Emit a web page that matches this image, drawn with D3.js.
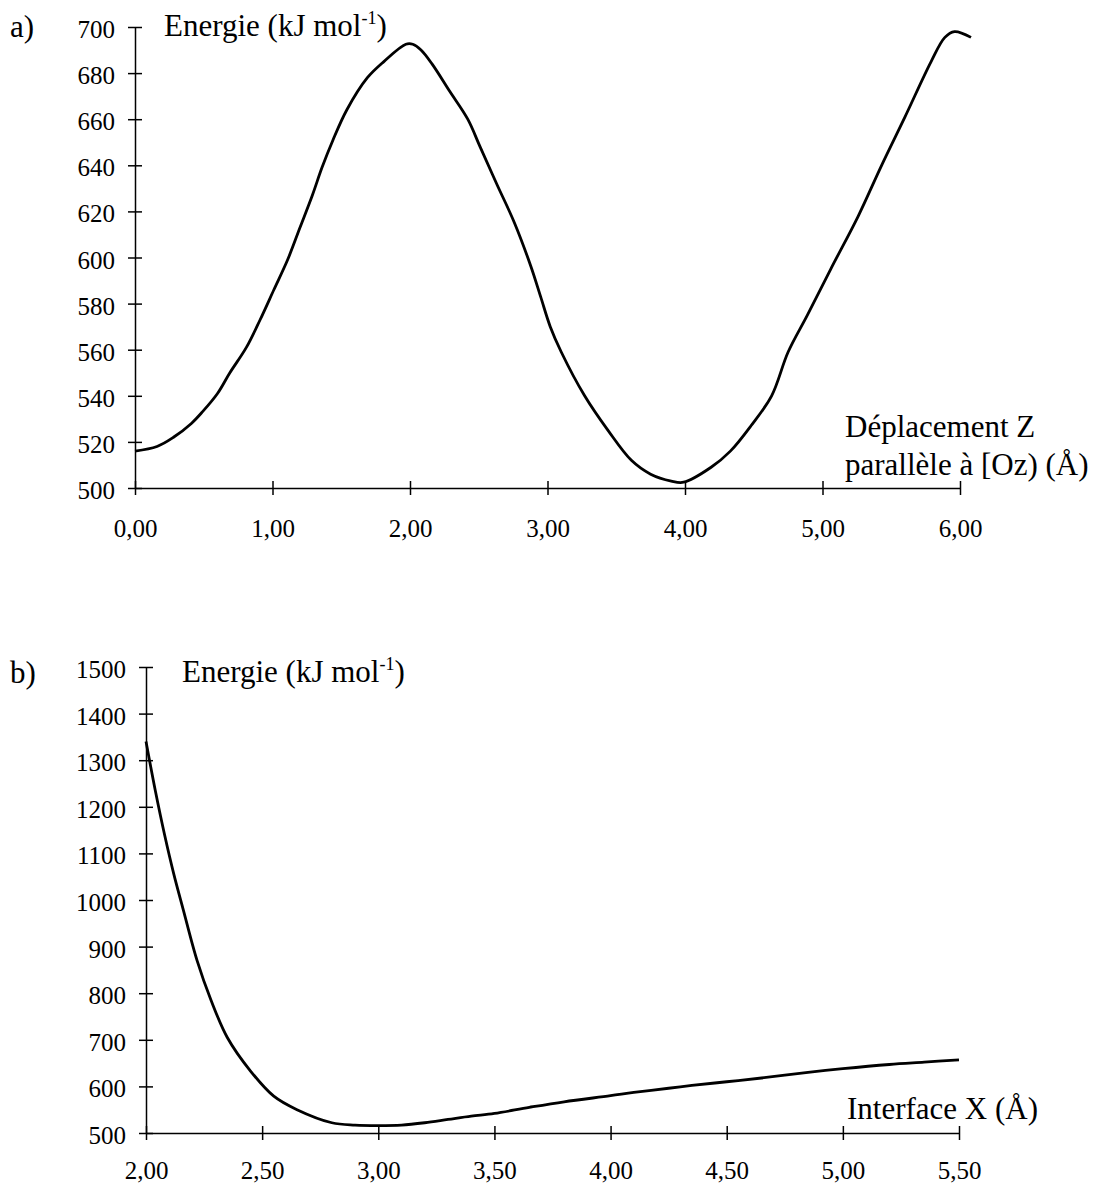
<!DOCTYPE html>
<html>
<head>
<meta charset="utf-8">
<script src="https://cdn.jsdelivr.net/npm/d3@7"></script>
<style>
body { margin: 0; background: #fff; }
svg { display: block; font-family: "Liberation Serif", "Times New Roman", serif; }
.axis path, .axis line { stroke: #000; stroke-width: 1.5; }
.axis text { font-size: 25px; fill: #000; font-family: "Liberation Serif", serif; }
.label { font-size: 31px; fill: #000; }
</style>
</head>
<body>
<svg id="chart" width="1098" height="1189"></svg>
<script>
// a) energy vs displacement along [Oz)
const dispZ = [0.00, 0.16, 0.28, 0.41, 0.49, 0.60, 0.69, 0.81, 0.91, 1.01, 1.11, 1.20, 1.29, 1.36, 1.44,
    1.54, 1.69, 1.81, 1.97, 2.02, 2.08, 2.16, 2.29, 2.42, 2.51, 2.63, 2.76, 2.88, 2.95, 3.02, 3.10,
    3.27, 3.44, 3.61, 3.75, 3.90, 3.99, 4.19, 4.33, 4.48, 4.63, 4.75, 4.89, 5.06, 5.26, 5.43, 5.60,
    5.79, 5.89, 5.96, 6.08];
const energyZ = [516, 518, 522, 528, 533, 541, 550, 561, 573, 586, 599, 613, 627, 639, 651,
    664, 678, 685, 692.5, 692.5, 690, 684, 672, 660, 648, 632, 615, 596, 583, 570, 559,
    540, 525, 512, 506, 503, 502.5, 509, 516, 527, 540, 559, 575, 595, 618, 640, 661,
    685, 695.5, 698, 695.5];
const ticksZ = [0, 1, 2, 3, 4, 5, 6];
const ticksEZ = [500, 520, 540, 560, 580, 600, 620, 640, 660, 680, 700];

// b) energy vs interface distance X
const interX = [2.00, 2.04, 2.08, 2.12, 2.16, 2.22, 2.28, 2.35, 2.45, 2.55, 2.65, 2.80, 2.90, 3.00,
    3.10, 3.20, 3.30, 3.40, 3.50, 3.65, 3.80, 4.00, 4.10, 4.25, 4.35, 4.50, 4.65, 4.85, 5.00,
    5.20, 5.35, 5.50];
const energyX = [1340, 1235, 1140, 1055, 980, 870, 785, 705, 633, 579, 550, 522, 517, 516,
    517, 522, 529, 536, 542, 555, 567, 580, 587, 596, 602, 610, 618, 630, 638,
    647, 652, 657];
const ticksX = [2, 2.5, 3, 3.5, 4, 4.5, 5, 5.5];
const ticksEX = [500, 600, 700, 800, 900, 1000, 1100, 1200, 1300, 1400, 1500];

const svg = d3.select("#chart");
const comma = d => d.toFixed(2).replace(".", ",");

function panel(opt) {
    const x = d3.scaleLinear().domain(opt.xDomain).range(opt.xRange);
    const y = d3.scaleLinear().domain(opt.yDomain).range(opt.yRange);

    const gx = svg.append("g").attr("class", "axis")
        .attr("transform", `translate(0,${opt.yRange[0]})`)
        .call(d3.axisBottom(x).tickValues(opt.xTicks).tickFormat(comma)
            .tickSize(7).tickSizeOuter(0).tickPadding(opt.xPad));
    gx.selectAll(".tick line").attr("y1", -7);

    const gy = svg.append("g").attr("class", "axis")
        .attr("transform", `translate(${opt.xRange[0]},0)`)
        .call(d3.axisLeft(y).tickValues(opt.yTicks).tickFormat(d3.format("d"))
            .tickSize(7).tickSizeOuter(0).tickPadding(13));
    gy.selectAll(".tick line").attr("x1", 7);
    gy.selectAll(".tick text").attr("dy", "0.42em");

    const line = d3.line()
        .curve(d3.curveCatmullRom.alpha(0.5))
        .x((d, i) => x(opt.xs[i]))
        .y(d => y(d));

    svg.append("path")
        .attr("fill", "none")
        .attr("stroke", "#000")
        .attr("stroke-width", 2.8)
        .attr("stroke-linejoin", "round")
        .attr("d", line(opt.ys));

    // panel letter
    svg.append("text").attr("class", "label")
        .attr("x", 10).attr("y", opt.letterY)
        .text(opt.letter);

    // y title with superscript
    const t = svg.append("text").attr("class", "label")
        .attr("x", opt.titleX).attr("y", opt.titleY);
    t.append("tspan").text("Energie (kJ mol");
    t.append("tspan").attr("font-size", 18).attr("dy", -12).text("-1");
    t.append("tspan").attr("dy", 12).text(")");

    // x title lines
    opt.xTitle.forEach((s, i) => {
        svg.append("text").attr("class", "label")
            .attr("x", opt.xTitleX).attr("y", opt.xTitleY + i * 38)
            .text(s);
    });
}

panel({
    xs: dispZ, ys: energyZ,
    xDomain: [0, 6], xRange: [135, 960],
    yDomain: [500, 700], yRange: [488, 27],
    xTicks: ticksZ, yTicks: ticksEZ, xPad: 24,
    letter: "a)", letterY: 37,
    titleX: 164, titleY: 36,
    xTitle: ["Déplacement Z", "parallèle à [Oz) (Å)"], xTitleX: 845, xTitleY: 437
});

panel({
    xs: interX, ys: energyX,
    xDomain: [2, 5.5], xRange: [146, 959],
    yDomain: [500, 1500], yRange: [1133, 667],
    xTicks: ticksX, yTicks: ticksEX, xPad: 21,
    letter: "b)", letterY: 683,
    titleX: 182, titleY: 682,
    xTitle: ["Interface X (Å)"], xTitleX: 847, xTitleY: 1119
});
</script>
</body>
</html>
